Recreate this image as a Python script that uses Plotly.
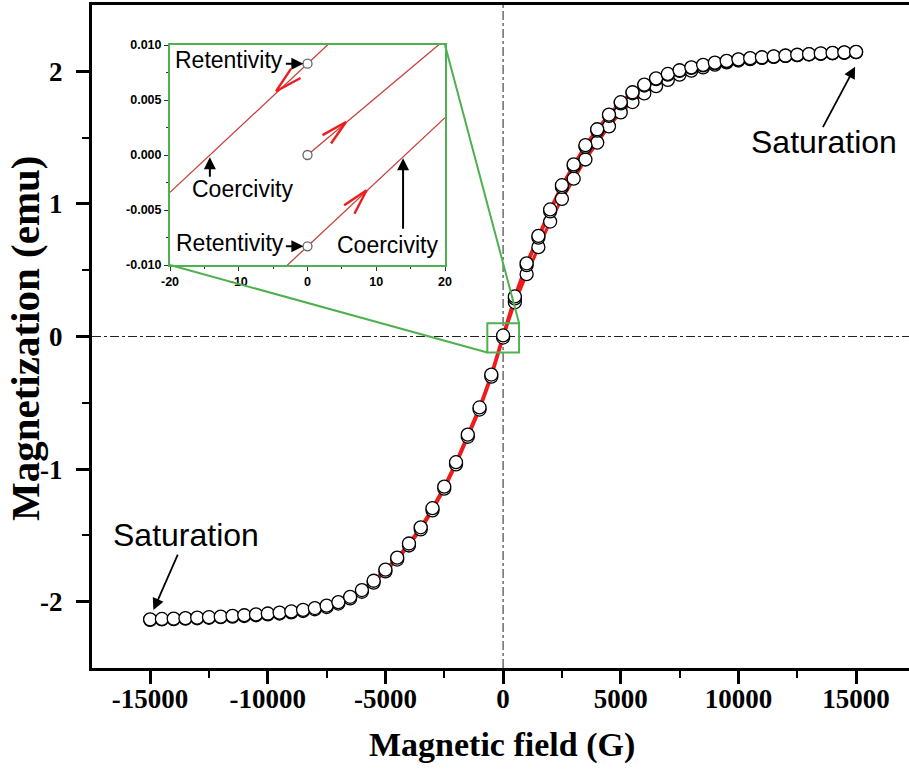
import plotly.graph_objects as go

# ---------------- data ----------------
H = [-15000, -14500, -14000, -13500, -13000, -12500, -12000, -11500, -11000, -10500,
     -10000, -9500, -9000, -8500, -8000, -7500, -7000, -6500, -6000, -5500,
     -5000, -4500, -4000, -3500, -3000, -2500, -2000, -1500, -1000, -500,
     0, 500, 1000, 1500, 2000, 2500, 3000, 3500, 4000, 4500,
     5000, 5500, 6000, 6500, 7000, 7500, 8000, 8500, 9000, 9500,
     10000, 10500, 11000, 11500, 12000, 12500, 13000, 13500, 14000, 14500, 15000]

M_desc = [-2.133, -2.130, -2.127, -2.124, -2.120, -2.116, -2.112, -2.107, -2.102, -2.096,
          -2.089, -2.082, -2.073, -2.062, -2.048, -2.030, -2.003, -1.963, -1.912, -1.842,
          -1.758, -1.668, -1.561, -1.439, -1.295, -1.132, -0.948, -0.740, -0.535, -0.287,
          0.008, 0.302, 0.552, 0.759, 0.958, 1.141, 1.298, 1.443, 1.563, 1.674,
          1.767, 1.842, 1.900, 1.947, 1.980, 2.008, 2.030, 2.049, 2.065, 2.079,
          2.090, 2.099, 2.106, 2.113, 2.119, 2.125, 2.130, 2.135, 2.139, 2.143, 2.147]

M_asc = [-2.137, -2.134, -2.131, -2.128, -2.125, -2.121, -2.117, -2.113, -2.108, -2.102,
         -2.096, -2.089, -2.081, -2.070, -2.057, -2.040, -2.014, -1.975, -1.925, -1.856,
         -1.772, -1.682, -1.576, -1.455, -1.311, -1.148, -0.964, -0.756, -0.551, -0.303,
         -0.008, 0.287, 0.538, 0.745, 0.944, 1.128, 1.286, 1.431, 1.552, 1.664,
         1.758, 1.834, 1.893, 1.941, 1.975, 2.003, 2.026, 2.045, 2.061, 2.075,
         2.087, 2.096, 2.103, 2.110, 2.116, 2.122, 2.127, 2.132, 2.136, 2.140, 2.144]

H_virgin = [0, 500, 1000, 1500, 2000, 2500, 3000, 3500, 4000, 4500,
            5000, 5500, 6000, 6500, 7000, 7500, 8000, 8500, 9000, 9500,
            10000, 10500, 11000, 11500, 12000, 12500, 13000, 13500, 14000, 14500, 15000]
M_virgin = [0.0, 0.258, 0.470, 0.674, 0.867, 1.038, 1.190, 1.335, 1.462, 1.585,
            1.690, 1.768, 1.833, 1.888, 1.935, 1.975, 2.005, 2.030, 2.050, 2.067,
            2.081, 2.092, 2.101, 2.109, 2.116, 2.122, 2.127, 2.132, 2.137, 2.141, 2.145]

# inset (zoom near origin)
inset_H = [-20, 0, 20]
inset_desc = [-0.0034, 0.0083, 0.0200]
inset_asc = [-0.0200, -0.0083, 0.0034]
inset_virgin_H = [0, 20]
inset_virgin = [0.0, 0.0105]
inset_pts_H = [0, 0, 0]
inset_pts_M = [0.0083, 0.0, -0.0083]

x_ticks = [-15000, -10000, -5000, 0, 5000, 10000, 15000]
x_ticktext = ["-15000", "-10000", "-5000", "0", "5000", "10000", "15000"]
y_ticks = [-2, -1, 0, 1, 2]
y_ticktext = ["-2", "-1", "0", "1", "2"]
ix_ticks = [-20, -10, 0, 10, 20]
ix_ticktext = ["-20", "-10", "0", "10", "20"]
iy_ticks = [-0.010, -0.005, 0.0, 0.005, 0.010]
iy_ticktext = ["-0.010", "-0.005", "0.000", "0.005", "0.010"]

# ---------------- style ----------------
W, HGT = 909, 769
ML, MR, MT, MB = 92, 0, 5, 101
XR = [-17470, 17250]
YR = [-2.5, 2.5]
GREEN = "#4fb04f"
RED = "#ee1c1c"
INRED = "#c8413c"
SERIF = "Liberation Serif"
SANS = "Liberation Sans"

fig = go.Figure()

# red connecting lines (below markers)
for xs, ys in [(H_virgin, M_virgin), (H, M_asc), (H, M_desc)]:
    fig.add_trace(go.Scatter(x=xs, y=ys, mode="lines",
                             line=dict(color=RED, width=3.2), hoverinfo="skip",
                             showlegend=False))
# open circle markers
for xs, ys in [(H_virgin, M_virgin), (H, M_asc), (H, M_desc)]:
    fig.add_trace(go.Scatter(x=xs, y=ys, mode="markers",
                             marker=dict(symbol="circle", size=13, color="white",
                                         line=dict(color="black", width=1.3)),
                             showlegend=False))

# inset traces
for xs, ys in [(inset_H, inset_desc), (inset_H, inset_asc), (inset_virgin_H, inset_virgin)]:
    fig.add_trace(go.Scatter(x=xs, y=ys, mode="lines", xaxis="x2", yaxis="y2",
                             line=dict(color=INRED, width=1.3), showlegend=False))
fig.add_trace(go.Scatter(x=inset_pts_H, y=inset_pts_M, mode="markers", xaxis="x2", yaxis="y2",
                         marker=dict(symbol="circle", size=9, color="white",
                                     line=dict(color="#666666", width=1.3)),
                         showlegend=False))

# inset domain (paper)
PW, PH = W - ML - MR, HGT - MB - MT
ix0, ix1 = (170 - ML) / PW, (445 - ML) / PW
iy0, iy1 = (HGT - MB - 265) / PH, (HGT - MB - 45) / PH

tickfont_main = dict(family=SERIF, size=27, color="black", weight="bold")
tickfont_in = dict(family=SANS, size=12.5, color="black", weight="bold")

fig.update_layout(
    width=W, height=HGT,
    margin=dict(l=ML, r=MR, t=MT, b=MB),
    paper_bgcolor="white", plot_bgcolor="white",
    showlegend=False,
    xaxis=dict(range=XR, tickmode="array", tickvals=x_ticks, ticktext=x_ticktext,
               automargin=False,
               ticks="outside", ticklen=13, tickwidth=2.5, tickcolor="black",
               minor=dict(tickvals=[-12500, -7500, -2500, 2500, 7500, 12500],
                          ticks="outside", ticklen=7, tickwidth=2, tickcolor="black"),
               showline=True, linewidth=3, linecolor="black", mirror=True,
               showgrid=False, zeroline=False, tickfont=tickfont_main,
               ticklabelstandoff=-8),
    yaxis=dict(range=YR, tickmode="array", tickvals=y_ticks, ticktext=y_ticktext,
               automargin=False,
               ticks="outside", ticklen=13, tickwidth=2.5, tickcolor="black",
               minor=dict(tickvals=[-1.5, -0.5, 0.5, 1.5], ticks="outside",
                          ticklen=7, tickwidth=2, tickcolor="black"),
               showline=True, linewidth=3, linecolor="black", mirror=False,
               showgrid=False, zeroline=False, tickfont=tickfont_main,
               ticklabelstandoff=8),
    xaxis2=dict(domain=[ix0, ix1], anchor="y2", range=[-20, 20], tickmode="array",
                automargin=False,
                tickvals=ix_ticks, ticktext=ix_ticktext, ticks="outside", ticklen=4,
                tickwidth=1, tickcolor="#333333",
                minor=dict(tickvals=[-15, -5, 5, 15], ticks="outside", ticklen=2, tickcolor="#333333"),
                showline=True, linewidth=2, linecolor=GREEN, mirror=True,
                showgrid=False, zeroline=False, tickfont=tickfont_in),
    yaxis2=dict(domain=[iy0, iy1], anchor="x2", range=[-0.010, 0.010], tickmode="array",
                automargin=False,
                tickvals=iy_ticks, ticktext=iy_ticktext, ticks="outside", ticklen=4,
                tickwidth=1, tickcolor="#333333",
                minor=dict(tickvals=[-0.0075, -0.0025, 0.0025, 0.0075], ticks="outside",
                           ticklen=2, tickcolor="#333333"),
                showline=True, linewidth=2, linecolor=GREEN, mirror=True,
                showgrid=False, zeroline=False, tickfont=tickfont_in),
)

shapes = []
# main zero lines
shapes.append(dict(type="line", xref="x", yref="y domain", x0=0, x1=0, y0=0, y1=1,
                   line=dict(color="#222222", width=1, dash="dashdot"), layer="below"))
shapes.append(dict(type="line", xref="x domain", yref="y", x0=0, x1=1, y0=0, y1=0,
                   line=dict(color="#222222", width=1, dash="dashdot"), layer="below"))
# inset zero lines
shapes.append(dict(type="line", xref="x2", yref="y2 domain", x0=0, x1=0, y0=0, y1=1,
                   line=dict(color="#444444", width=1.3, dash="dashdot"), layer="below"))
shapes.append(dict(type="line", xref="x2 domain", yref="y2", x0=0, x1=1, y0=0, y1=0,
                   line=dict(color="#444444", width=1.3, dash="dashdot"), layer="below"))
# zoom box on main plot
BX = [-670, 680]
BY = [-0.12, 0.10]
shapes.append(dict(type="rect", xref="x", yref="y", x0=BX[0], x1=BX[1], y0=BY[0], y1=BY[1],
                   line=dict(color=GREEN, width=2)))

def to_paper_x(v):
    return (v - XR[0]) / (XR[1] - XR[0])

def to_paper_y(v):
    return (v - YR[0]) / (YR[1] - YR[0])

shapes.append(dict(type="line", xref="paper", yref="paper", x0=ix1, y0=iy1,
                   x1=to_paper_x(BX[1]), y1=to_paper_y(BY[1]), line=dict(color=GREEN, width=2)))
shapes.append(dict(type="line", xref="paper", yref="paper", x0=ix0, y0=iy0,
                   x1=to_paper_x(BX[0]), y1=to_paper_y(BY[0]), line=dict(color=GREEN, width=2)))
fig.update_layout(shapes=shapes)

ann = []
# axis titles (placed precisely as annotations)
ann.append(dict(xref="paper", yref="paper", x=(502 - ML) / PW, y=(HGT - MB - 745) / PH,
                text="Magnetic field (G)", showarrow=False, xanchor="center", yanchor="middle",
                font=dict(family=SERIF, size=34, color="black", weight="bold")))
ann.append(dict(xref="paper", yref="paper", x=(25 - ML) / PW, y=(HGT - MB - 338) / PH,
                text="Magnetization (emu)", showarrow=False, textangle=-90,
                xanchor="center", yanchor="middle",
                font=dict(family=SERIF, size=41, color="black", weight="bold")))

sat_font = dict(family=SANS, size=32, color="black")
ann.append(dict(x=13640, y=1.467, xref="x", yref="y", text="Saturation", showarrow=False,
                font=sat_font))
ann.append(dict(x=-13470, y=-1.497, xref="x", yref="y", text="Saturation", showarrow=False,
                font=sat_font))
ann.append(dict(x=14960, y=2.035, xref="x", yref="y", text="", showarrow=True,
                ax=-33, ay=62, arrowhead=2, arrowsize=1.3, arrowwidth=1.8, arrowcolor="black"))
ann.append(dict(x=-14860, y=-2.063, xref="x", yref="y", text="", showarrow=True,
                ax=25, ay=-57, arrowhead=2, arrowsize=1.3, arrowwidth=1.8, arrowcolor="black"))

in_font = dict(family=SANS, size=23, color="black")
ann.append(dict(x=-11.4, y=0.0086, xref="x2", yref="y2", text="Retentivity", showarrow=False, font=in_font))
ann.append(dict(x=-9.4, y=-0.0031, xref="x2", yref="y2", text="Coercivity", showarrow=False, font=in_font))
ann.append(dict(x=-11.3, y=-0.0080, xref="x2", yref="y2", text="Retentivity", showarrow=False, font=in_font))
ann.append(dict(x=11.6, y=-0.0082, xref="x2", yref="y2", text="Coercivity", showarrow=False, font=in_font))
# black pointer arrows in inset
for (x, y, ax, ay) in [(-0.6, 0.0083, -19, 0), (-0.6, -0.0083, -19, 0),
                       (-14.2, -0.0002, 0, 21), (13.9, -0.0003, 0, 72)]:
    ann.append(dict(x=x, y=y, xref="x2", yref="y2", text="", showarrow=True, ax=ax, ay=ay,
                    arrowhead=2, arrowsize=1.2, arrowwidth=2, arrowcolor="black"))
# red direction chevrons in inset
for (x, y, arms) in [(-4.57, 0.0058, [(16, -24), (26, -14)]),
                     (5.6, 0.0030, [(-25, 14), (-16, 23)]),
                     (8.6, -0.0032, [(-24, 16), (-13, 25)])]:
    for (ax, ay) in arms:
        ann.append(dict(x=x, y=y, xref="x2", yref="y2", text="", showarrow=True, ax=ax, ay=ay,
                        arrowhead=0, arrowwidth=2.4, arrowcolor=RED, standoff=0, startstandoff=0))
fig.update_layout(annotations=ann)

fig.write_html("out.html", config={"displayModeBar": False},
               post_script="document.body.style.margin='0';")
